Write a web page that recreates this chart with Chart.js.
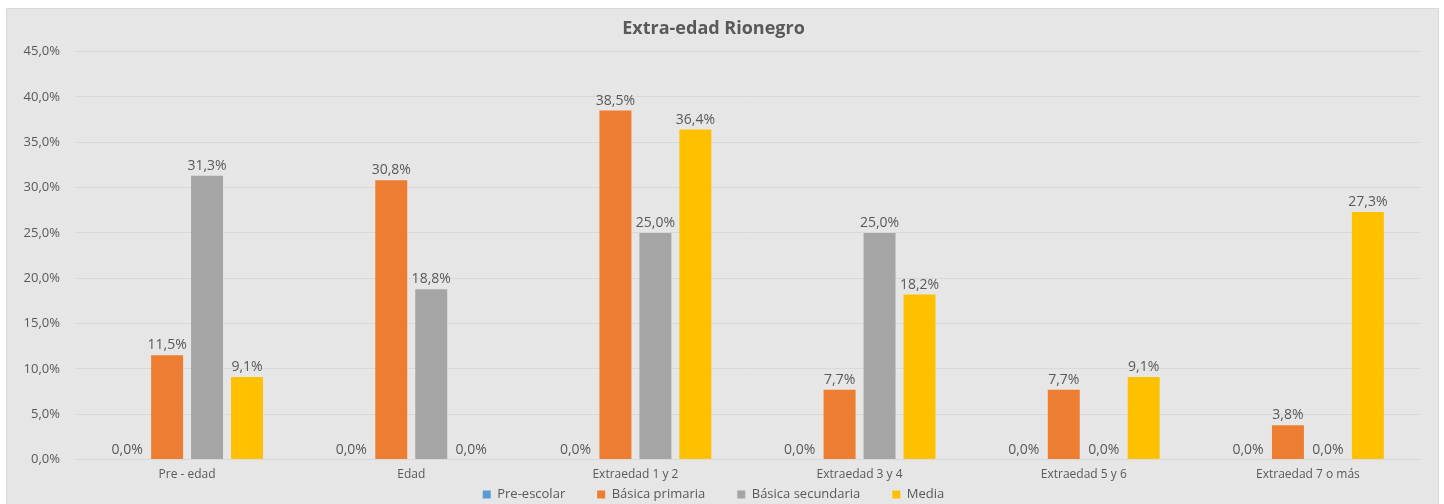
<!DOCTYPE html>
<html>
<head>
<meta charset="utf-8">
<script src="https://cdn.jsdelivr.net/npm/chart.js@4"></script>
<style>
  html, body { margin: 0; padding: 0; background: #ffffff; overflow: hidden; }
  #wrap {
    position: absolute; left: 7px; top: 9px;
    width: 1431px; height: 495px;
    background: #e7e6e6;
    box-shadow: 0 0 0 1px #d9d9d9;
  }
</style>
</head>
<body>
<div id="wrap"><canvas id="chart"></canvas></div>
<script>
// categories and series (percent)
const categories = ['Pre - edad', 'Edad', 'Extraedad 1 y 2', 'Extraedad 3 y 4', 'Extraedad 5 y 6', 'Extraedad 7 o más'];
const preEscolar = [0, 0, 0, 0, 0, 0];
const basicaPrimaria = [11.5, 30.8, 38.5, 7.7, 7.7, 3.8];
const basicaSecundaria = [31.3, 18.8, 25.0, 25.0, 0, 0];
const media = [9.1, 0, 36.4, 18.2, 9.1, 27.3];

const textColor = '#595959';
const fontFamily = '"Open Sans", "Noto Sans", sans-serif';

const pct = v => v.toFixed(1).replace('.', ',') + '%';

// draws the value above every bar
const valueLabels = {
  id: 'valueLabels',
  afterDatasetsDraw(chart) {
    const ctx = chart.ctx;
    ctx.save();
    ctx.font = '14px ' + fontFamily;
    ctx.fillStyle = textColor;
    ctx.textAlign = 'center';
    ctx.textBaseline = 'bottom';
    chart.data.datasets.forEach((ds, i) => {
      const meta = chart.getDatasetMeta(i);
      meta.data.forEach((bar, j) => {
        ctx.fillText(pct(ds.data[j]), bar.x, bar.y - 3);
      });
    });
    ctx.restore();
  }
};

const makeSet = (label, data, color) => ({
  label: label,
  data: data,
  backgroundColor: color,
  borderColor: color,
  borderWidth: 0,
  categoryPercentage: 0.713,
  barPercentage: 0.8,
});

new Chart(document.getElementById('chart'), {
  type: 'bar',
  data: {
    labels: categories,
    datasets: [
      makeSet('Pre-escolar', preEscolar, '#5b9bd5'),
      makeSet('Básica primaria', basicaPrimaria, '#ed7d31'),
      makeSet('Básica secundaria', basicaSecundaria, '#a5a5a5'),
      makeSet('Media', media, '#ffc000'),
    ],
  },
  options: {
    responsive: true,
    maintainAspectRatio: false,
    animation: false,
    layout: { padding: { left: 0, right: 18, top: 0, bottom: -7 } },
    scales: {
      x: {
        grid: { display: false },
        border: { display: false },
        ticks: { color: textColor, font: { family: fontFamily, size: 12 }, padding: 0 },
      },
      y: {
        min: 0,
        max: 45,
        ticks: {
          stepSize: 5,
          color: textColor,
          font: { family: fontFamily, size: 13 },
          padding: 15,
          callback: v => pct(v),
        },
        grid: { color: '#d9d9d9', drawTicks: false },
        border: { display: false },
        afterFit(scale) { scale.width = 68; },
      },
    },
    plugins: {
      title: {
        display: true,
        text: 'Extra-edad Rionegro',
        color: textColor,
        font: { family: fontFamily, size: 18, weight: 'bold' },
        padding: { top: 9, bottom: 12 },
      },
      legend: {
        position: 'bottom',
        labels: {
          color: textColor,
          font: { family: fontFamily, size: 13 },
          boxWidth: 8,
          boxHeight: 8,
          padding: 6,
          // wider gaps between items, like the original legend
          generateLabels(chart) {
            const items = Chart.defaults.plugins.legend.labels.generateLabels(chart);
            items.forEach((it, i) => {
              if (i < items.length - 1) it.text = it.text + '\u2003\u2003';
            });
            return items;
          },
        },
      },
      tooltip: { enabled: false },
    },
  },
  plugins: [valueLabels],
});
</script>
</body>
</html>
